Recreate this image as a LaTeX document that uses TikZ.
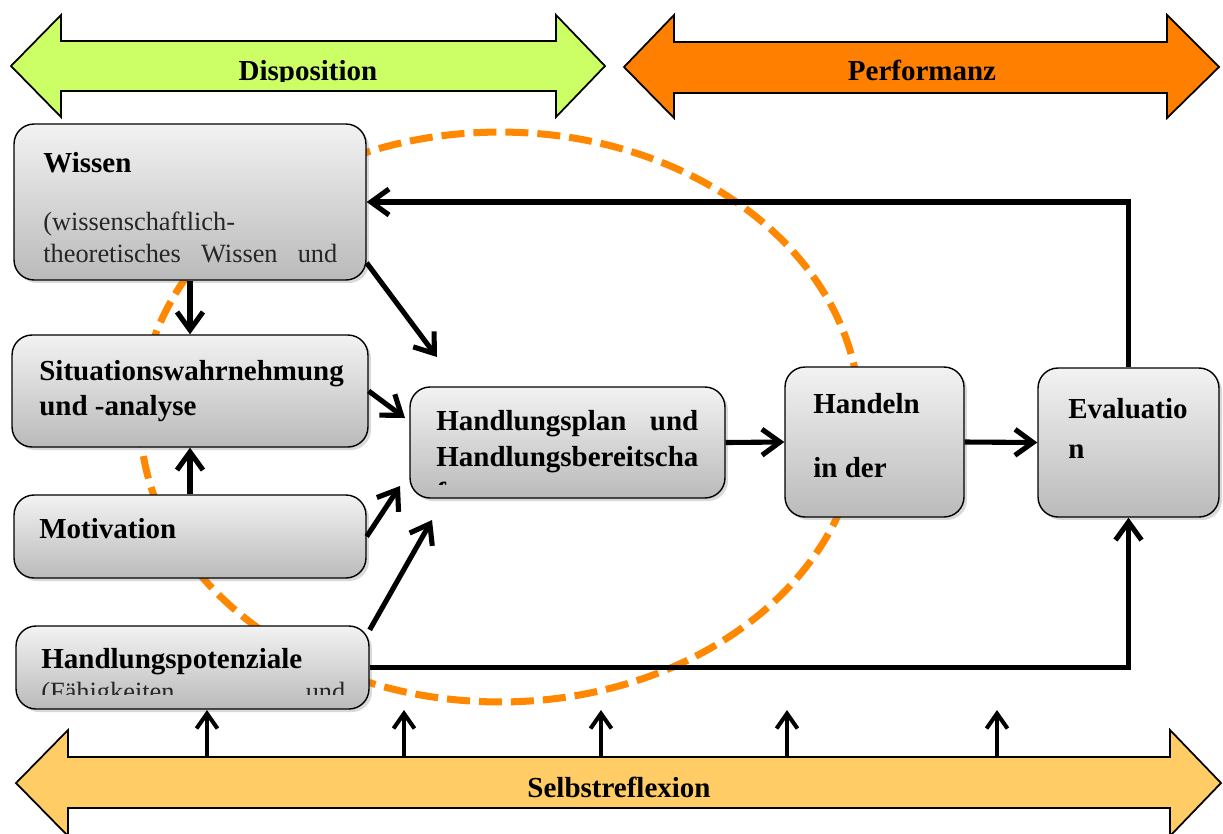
\documentclass[tikz,border=0pt]{standalone}
\usepackage{fontspec}
\setmainfont{Liberation Serif}
\usetikzlibrary{arrows.meta,shadows}
\definecolor{dispo}{RGB}{204,255,102}
\definecolor{perf}{RGB}{255,128,0}
\definecolor{selbst}{RGB}{255,204,102}
\definecolor{ell}{RGB}{255,136,0}
\tikzset{
 box/.style={draw=black, line width=0.8pt, rounded corners=0.4cm, top color=black!5, bottom color=black!27,
   drop shadow={shadow xshift=0.6mm,shadow yshift=-0.6mm,opacity=0.3}, inner sep=0, anchor=center},
 bl/.style={font=\fontsize{16.5}{19}\selectfont\bfseries, anchor=base west, inner sep=0},
 rl/.style={font=\fontsize{15}{18}\selectfont, anchor=base west, inner sep=0, text=black!85},
 lbl/.style={font=\fontsize{16.5}{19}\selectfont\bfseries, anchor=base, inner sep=0},
 arr/.style={line width=2.9pt, -{Straight Barb[length=0.36cm,width=0.52cm]}},
 sarr/.style={line width=2.3pt, -{Straight Barb[length=0.3cm,width=0.42cm]}},
 block/.style={draw=black, line width=1pt, line join=miter},
 ellstyle/.style={draw=ell, line width=4pt, dash pattern=on 0.46cm off 0.18cm},
}
\begin{document}
\begin{tikzpicture}[x=0.02cm,y=-0.02cm]
\useasboundingbox (0,0) rectangle (1223,833);
\clip (0,0) rectangle (1223,833);

% block arrows
\path[block, fill=dispo] (11,66) -- (61,15) -- (61,41) -- (556,41) -- (556,15) -- (605,66) -- (556,117) -- (556,91) -- (61,91) -- (61,117) -- cycle;
\path[block, fill=perf] (624,67) -- (674,15) -- (674,42) -- (1167,42) -- (1167,15) -- (1219,67) -- (1167,118) -- (1167,93) -- (674,93) -- (674,118) -- cycle;
\path[block, fill=selbst] (16,783) -- (68,730) -- (68,757) -- (1170,757) -- (1170,730) -- (1221,783) -- (1170,836) -- (1170,808) -- (68,808) -- (68,836) -- cycle;
\begin{scope}
\clip (61,41) rectangle (556,81);
\node[lbl] (disp) at (308,80) {Disposition};
\end{scope}
\node[lbl] (perfl) at (922,80) {Performanz};
\node[lbl] (selbstl) at (619,797) {Selbstreflexion};

% ellipse
\draw[ellstyle] (500,417) ellipse [x radius=7.2cm, y radius=5.7cm];

% boxes
\node[box, minimum width=7.04cm, minimum height=3.12cm] (wis) at (190,202) {};
\node[box, minimum width=7.12cm, minimum height=2.24cm] (sit) at (190,391) {};
\node[box, minimum width=7.04cm, minimum height=1.66cm] (mot) at (190,536.5) {};
\node[box, minimum width=7.06cm, minimum height=1.66cm] (pot) at (192.5,667.5) {};
\node[box, minimum width=6.3cm, minimum height=2.22cm] (plan) at (567.5,442.5) {};
\node[box, minimum width=3.58cm, minimum height=3.0cm] (han) at (874.5,442) {};
\node[box, minimum width=3.62cm, minimum height=2.98cm] (eva) at (1128.5,442.5) {};

% box texts
\begin{scope}
\clip (14,124) rectangle (366,264);
\node[bl] (wis1) at (43,172) {Wissen};
\node[rl] (wis2) at (43,230) {(wissenschaftlich-};
\node[rl] (wis3) at (43,262) {\makebox[5.88cm][s]{theoretisches\hfill Wissen\hfill und}};
\end{scope}
\node[bl] (sit1) at (39,380) {Situationswahrnehmung};
\node[bl] (sit2) at (39,415) {und -analyse};
\node[bl] (mot1) at (39,538) {Motivation};
\begin{scope}
\clip (16,626) rectangle (369,694);
\node[bl] (pot1) at (41,668) {Handlungspotenziale};
\node[rl] (pot2) at (41,700) {\makebox[6.08cm][s]{(Fähigkeiten\hfill und}};
\end{scope}
\begin{scope}
\clip (410,387) rectangle (725,484);
\node[bl] (plan1) at (436,430) {\makebox[5.24cm][s]{Handlungsplan\hfill und}};
\node[bl] (plan2) at (436,466) {Handlungsbereitscha};
\node[bl] (plan3) at (436,502) {ft};
\end{scope}
\node[bl] (han1) at (813,413) {Handeln};
\node[bl] (han2) at (813,477) {in der};
\node[bl] (eva1) at (1068,418) {Evaluatio};
\node[bl] (eva2) at (1068,458) {n};

% connectors
\coordinate (e1) at (437,357);
\coordinate (e2) at (405,418);
\coordinate (e3) at (400,486);
\coordinate (e4) at (432,520);
\draw[arr] (wis.south) -- (sit.north);
\draw[arr] (mot.north) -- (sit.south);
\draw[arr] (wis.-19) -- (e1);
\draw[arr] (sit.east) -- (e2);
\draw[arr] (mot.east) -- (e3);
\draw[arr] (pot.12) -- (e4);
\draw[arr] (plan.east) -- (han.west);
\draw[arr] (han.east) -- (eva.west);
\draw[arr] (eva.north) |- (wis.east);
\draw[arr] (pot.east) -| (eva.south);

% self-reflection arrows
\foreach \i/\x in {1/207,2/404,3/601,4/787,5/997}{
  \coordinate (s\i) at (\x,757);
  \coordinate (t\i) at (\x,710);
  \draw[sarr] (s\i) -- (t\i);
}
\end{tikzpicture}
\end{document}
